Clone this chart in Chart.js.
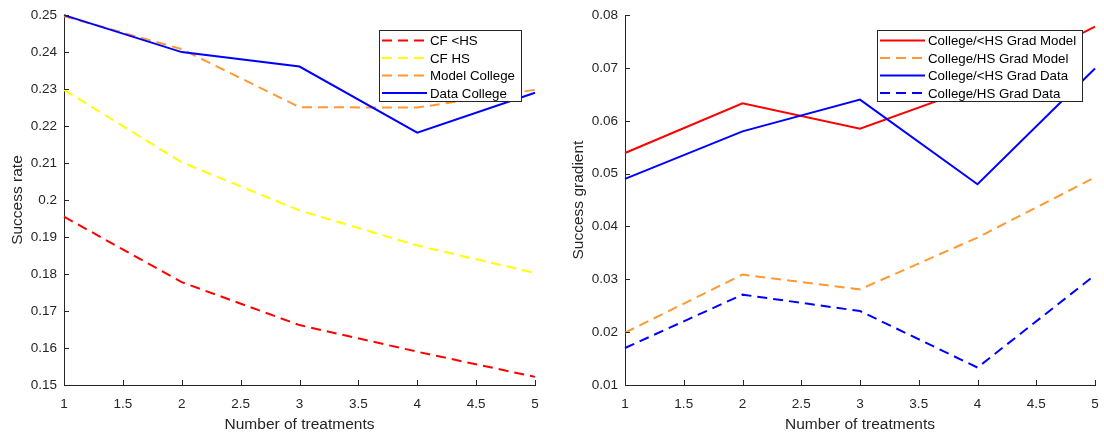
<!DOCTYPE html>
<html>
<head>
<meta charset="utf-8">
<script src="https://cdn.jsdelivr.net/npm/chart.js@4"></script>
<style>
  body { margin: 0; background: #fff; }
  #wrap { position: relative; width: 1104px; height: 441px; }
  #rateChart { position: absolute; left: 0; top: 0; }
  #gradChart { position: absolute; left: 550px; top: 0; }
</style>
</head>
<body>
<div id="wrap">
  <canvas id="rateChart" width="550" height="441"></canvas>
  <canvas id="gradChart" width="554" height="441"></canvas>
</div>
<script>
// Number of treatments on the x axis
const treatments = [1, 2, 3, 4, 5];
const xTicks = [1, 1.5, 2, 2.5, 3, 3.5, 4, 4.5, 5];

// Success rates
const cfLessHS = [0.1955, 0.1778, 0.1662, 0.1590, 0.1522];
const cfHS = [0.2298, 0.2102, 0.1972, 0.1877, 0.1803];
const modelCollege = [0.2497, 0.2408, 0.2251, 0.2250, 0.2298];
const dataCollege = [0.2500, 0.2400, 0.2361, 0.2182, 0.2290];
const rateTicks = [0.15, 0.16, 0.17, 0.18, 0.19, 0.2, 0.21, 0.22, 0.23, 0.24, 0.25];

// Success gradients
const lessHSGradModel = [0.0539, 0.0633, 0.0585, 0.0665, 0.0778];
const hsGradModel = [0.0199, 0.0309, 0.0281, 0.0379, 0.0493];
const lessHSGradData = [0.0490, 0.0580, 0.0640, 0.0480, 0.0699];
const hsGradData = [0.0170, 0.0271, 0.0240, 0.0133, 0.0308];
const gradTicks = [0.01, 0.02, 0.03, 0.04, 0.05, 0.06, 0.07, 0.08];

const FONT = '"Liberation Sans", Arial, Helvetica, sans-serif';
const AXIS_COLOR = '#262626';
const RED = '#ff0000', YELLOW = '#ffff00', ORANGE = '#ff9933', BLUE = '#0000ff';
const DASH = [10, 6];

function series(label, values, color, dashed) {
    return {
        label: label,
        data: values.map((v, i) => ({ x: treatments[i], y: v })),
        borderColor: color,
        borderWidth: 2,
        borderDash: dashed ? DASH : [],
        pointRadius: 0,
        tension: 0,
        fill: false,
        clip: false
    };
}

// Legend box drawn inside the plot area, top right
const boxLegend = {
    id: 'boxLegend',
    afterDatasetsDraw(chart, args, opts) {
        const ctx = chart.ctx;
        const area = chart.chartArea;
        const sets = chart.data.datasets;
        ctx.save();
        ctx.font = '13.3px ' + FONT;
        const textW = Math.max(...sets.map(d => ctx.measureText(d.label).width));
        const w = Math.round(51 + textW + 6);
        const h = 71;
        const x0 = Math.round(area.right - opts.right - w);
        const y0 = Math.round(area.top + 15);
        ctx.fillStyle = '#fff';
        ctx.fillRect(x0, y0, w, h);
        ctx.strokeStyle = AXIS_COLOR;
        ctx.lineWidth = 1;
        ctx.strokeRect(x0 + 0.5, y0 + 0.5, w, h);
        sets.forEach((d, i) => {
            const cy = y0 + 10.5 + i * 17.5;
            ctx.beginPath();
            ctx.strokeStyle = d.borderColor;
            ctx.lineWidth = d.borderWidth;
            ctx.setLineDash(d.borderDash);
            ctx.moveTo(x0 + 3, cy);
            ctx.lineTo(x0 + 48, cy);
            ctx.stroke();
            ctx.setLineDash([]);
            ctx.fillStyle = '#000';
            ctx.textBaseline = 'middle';
            ctx.fillText(d.label, x0 + 51, cy + 1);
        });
        ctx.restore();
    }
};

// Tick marks pointing into the plot
const innerTicks = {
    id: 'innerTicks',
    afterDraw(chart) {
        const { ctx, chartArea: a, scales } = chart;
        ctx.save();
        ctx.strokeStyle = AXIS_COLOR;
        ctx.lineWidth = 1;
        ctx.beginPath();
        scales.x.ticks.forEach(t => {
            const px = Math.round(scales.x.getPixelForValue(t.value)) + 0.5;
            ctx.moveTo(px, a.bottom);
            ctx.lineTo(px, a.bottom - 5);
        });
        scales.y.ticks.forEach(t => {
            const py = Math.round(scales.y.getPixelForValue(t.value)) + 0.5;
            ctx.moveTo(a.left, py);
            ctx.lineTo(a.left + 5, py);
        });
        ctx.stroke();
        ctx.restore();
    }
};

function makeChart(id, datasets, yTicks, yTitle, yWidth, yTitlePad, rightPad, legendRight) {
    return new Chart(document.getElementById(id), {
        type: 'line',
        data: { datasets: datasets.map((d, i) => Object.assign(d, { order: datasets.length - i })) },
        options: {
            responsive: false,
            animation: false,
            layout: { padding: { top: 14, right: rightPad, left: 0, bottom: 0 } },
            plugins: {
                legend: { display: false },
                tooltip: { enabled: false },
                boxLegend: { right: legendRight }
            },
            scales: {
                x: {
                    type: 'linear',
                    min: xTicks[0],
                    max: xTicks[xTicks.length - 1],
                    afterBuildTicks: s => { s.ticks = xTicks.map(v => ({ value: v })); },
                    afterFit: s => { s.height = 56; s.paddingRight = 0; },
                    grid: { display: false, drawTicks: false },
                    border: { display: true, color: AXIS_COLOR, width: 1 },
                    ticks: {
                        color: AXIS_COLOR,
                        font: { family: FONT, size: 13.5 },
                        padding: 11,
                        maxRotation: 0,
                        callback: v => String(v)
                    },
                    title: {
                        display: true,
                        text: 'Number of treatments',
                        color: AXIS_COLOR,
                        font: { family: FONT, size: 15.5 },
                        padding: { top: 0, bottom: 7 }
                    }
                },
                y: {
                    type: 'linear',
                    min: yTicks[0],
                    max: yTicks[yTicks.length - 1],
                    afterBuildTicks: s => { s.ticks = yTicks.map(v => ({ value: v })); },
                    afterFit: s => { s.width = yWidth; },
                    grid: { display: false, drawTicks: false },
                    border: { display: true, color: AXIS_COLOR, width: 1 },
                    ticks: {
                        color: AXIS_COLOR,
                        font: { family: FONT, size: 13.5 },
                        padding: 7,
                        callback: v => String(+v.toFixed(4))
                    },
                    title: {
                        display: true,
                        text: yTitle,
                        color: AXIS_COLOR,
                        font: { family: FONT, size: 15.5 },
                        padding: { top: yTitlePad, bottom: 0 }
                    }
                }
            }
        },
        plugins: [boxLegend, innerTicks]
    });
}

makeChart('rateChart', [
    series('CF <HS', cfLessHS, RED, true),
    series('CF HS', cfHS, YELLOW, true),
    series('Model College', modelCollege, ORANGE, true),
    series('Data College', dataCollege, BLUE, false)
], rateTicks, 'Success rate', 64, 8, 15, 14);

makeChart('gradChart', [
    series('College/<HS Grad Model', lessHSGradModel, RED, false),
    series('College/HS Grad Model', hsGradModel, ORANGE, true),
    series('College/<HS Grad Data', lessHSGradData, BLUE, false),
    series('College/HS Grad Data', hsGradData, BLUE, true)
], gradTicks, 'Success gradient', 75, 19, 9, 13);
</script>
</body>
</html>
